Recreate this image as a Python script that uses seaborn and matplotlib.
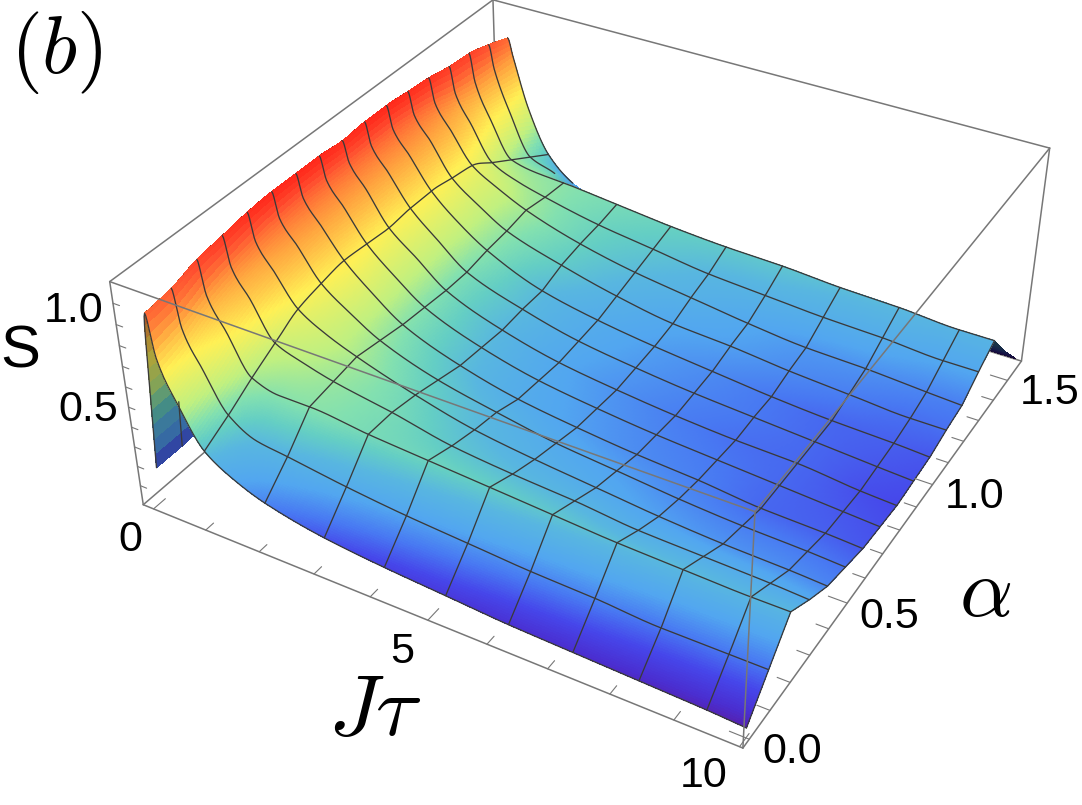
import numpy as np
import matplotlib
matplotlib.use("Agg")
import matplotlib.pyplot as plt
from matplotlib.colors import LinearSegmentedColormap
import seaborn as sns

sns.set_theme(style="white")
plt.rcParams["mathtext.fontset"] = "cm"

# S(J tau, alpha) on the plotting grid: one row per alpha, one column per J tau
jt = np.array([0, .1, .2, .3, .6, 1, 1.5, 2.05, 3.1, 4.15, 5.2, 6.25, 7.3, 8.35, 9.4, 10])
alpha = np.arange(17) * np.pi / 32
S = np.array([
 [.18,.62,.96,.76,.56,.37,.28,.22,.16,.13,.11,.09,.08,.07,.06,.05],
 [.18,.63,.98,.80,.63,.44,.36,.34,.30,.27,.25,.23,.22,.20,.20,.20],
 [.19,.65,1.02,.86,.71,.52,.48,.48,.45,.43,.41,.39,.37,.36,.35,.35],
 [.19,.66,1.04,.90,.77,.59,.54,.50,.45,.39,.36,.34,.31,.30,.29,.28],
 [.20,.67,1.06,.93,.81,.66,.58,.52,.43,.36,.32,.29,.26,.24,.23,.22],
 [.20,.68,1.07,.95,.84,.69,.59,.50,.40,.34,.29,.26,.23,.21,.20,.19],
 [.20,.69,1.07,.96,.85,.71,.59,.48,.37,.30,.26,.23,.21,.18,.17,.16],
 [.20,.69,1.07,.96,.85,.70,.58,.47,.36,.29,.25,.22,.20,.18,.16,.15],
 [.20,.69,1.06,.96,.85,.69,.58,.46,.35,.28,.24,.21,.19,.18,.15,.14],
 [.20,.69,1.07,.96,.85,.70,.58,.46,.36,.29,.25,.22,.20,.18,.16,.15],
 [.20,.69,1.07,.96,.85,.70,.58,.48,.36,.30,.26,.23,.20,.18,.17,.16],
 [.20,.68,1.06,.95,.84,.68,.58,.49,.40,.33,.28,.26,.23,.21,.19,.19],
 [.19,.67,1.05,.93,.81,.66,.58,.51,.42,.36,.32,.28,.25,.24,.22,.21],
 [.19,.66,1.03,.90,.76,.59,.53,.49,.43,.39,.35,.33,.31,.30,.28,.28],
 [.18,.65,1.02,.88,.70,.52,.49,.48,.45,.42,.40,.39,.37,.36,.34,.34],
 [.18,.63,.99,.87,.66,.45,.40,.30,.28,.25,.22,.21,.20,.19,.18,.18],
 [.17,.60,.95,.86,.60,.38,.26,.20,.12,.09,.07,.06,.05,.05,.04,.04],
])
mesh_jt = [1, 2.05, 3.1, 4.15, 5.2, 6.25, 7.3, 8.35, 9.4, 10]
jt_ticks = np.arange(0, 11)
alpha_ticks = np.arange(0, 16) / 10
s_ticks = np.arange(1, 11) / 10
xlim = (-.2, 10.05); ylim = (-.03, 1.6); zlim = (0., 1.1)

W, H = 1082, 805
fig = plt.figure(figsize=(W/100, H/100), dpi=100)
ax = fig.add_axes([0, 0, 1, 1], projection="3d", computed_zorder=False)
ax.set_axis_off()
ax.set_xlim(*xlim, view_margin=0); ax.set_ylim(*ylim, view_margin=0); ax.set_zlim(*zlim, view_margin=0)

# strong perspective view of the box; the axes square is larger than the canvas
side = 1500.
ax.view_init(34.8284, -60.1286, -0.0304)
ax.set_proj_type("persp", focal_length=0.2759)
ax.set_box_aspect((1, 0.9977, 0.3994), zoom=0.6311)
ax.set_position([(581.1342-side/2)/W, (H-344.7340-side/2)/H, side/W, side/H])


def pchip(x, y, xn):
    """Monotone cubic resampling, so the surface runs smoothly through the grid."""
    h = np.diff(x); d = np.diff(y)/h
    m = np.zeros_like(y)
    for i in range(1, y.size-1):
        if d[i-1]*d[i] > 0:
            w1, w2 = 2*h[i]+h[i-1], h[i]+2*h[i-1]
            m[i] = (w1+w2)/(w1/d[i-1]+w2/d[i])
    m[0], m[-1] = d[0], d[-1]
    i = np.clip(np.searchsorted(x, xn, side="right")-1, 0, x.size-2)
    t = (xn-x[i])/h[i]
    return ((2*t**3-3*t**2+1)*y[i]+(t**3-2*t**2+t)*h[i]*m[i]
            + (-2*t**3+3*t**2)*y[i+1]+(t**3-t**2)*h[i]*m[i+1])


# fine sampling that keeps every grid line as an exact row or column
per_gap = [6, 6, 6, 12, 14, 16, 18, 25, 25, 25, 25, 25, 25, 25, 15]
xf = np.concatenate([np.linspace(jt[i], jt[i+1], n, endpoint=False) for i, n in enumerate(per_gap)]+[[jt[-1]]])
col_of = np.r_[0, np.cumsum(per_gap)]
step = 24
yf = np.linspace(0, np.pi/2, 16*step+1)
Z1 = np.array([pchip(jt, row, xf) for row in S])
Zc = np.array([pchip(alpha, Z1[:, j], yf) for j in range(xf.size)]).T
Zl = np.array([np.interp(yf, alpha, Z1[:, j]) for j in range(xf.size)]).T
# rounded across alpha near the ridge, creased as faceted strips further out
w = np.clip(xf-1, 0, 1)
Zf = (1-w)*Zc + w*Zl
X, Y = np.meshgrid(xf, yf)

zmin, zmax = .03, 1.07
levels = [(.03,"#5a1aa0"),(.08,"#4a2ed0"),(.14,"#4646ea"),(.20,"#4878f2"),(.27,"#52a6f0"),(.35,"#58b6e0"),(.41,"#64cec4"),
          (.47,"#82e0b0"),(.55,"#c0f080"),(.70,"#fff055"),(.85,"#ffa840"),(1.0,"#ff5030"),(1.07,"#ff2a1c")]
cmap = LinearSegmentedColormap.from_list("height", [((z-zmin)/(zmax-zmin), c) for z, c in levels], N=4096)
colors = cmap(plt.Normalize(zmin, zmax)(Zf))

# the underside of the sheet reads darker: the rising flank and the far drop
shade = np.ones(Zf.shape)
shade[:, xf < .2] = .68
far = yf > alpha[14]
shade[far] = np.minimum(shade[far], np.interp(X[far], [1.5, 4], [1, .3]))
colors[..., :3] *= shade[..., None]

edge = "#777777"
mesh = "#3a3a3a"


def box(a, b, z):
    ax.plot([xlim[a[0]], xlim[b[0]]], [ylim[a[1]], ylim[b[1]]], [zlim[a[2]], zlim[b[2]]], color=edge, lw=1.1, zorder=z)


for a, b in [((0,1,0),(0,1,1)), ((0,1,0),(1,1,0)), ((0,0,0),(0,1,0))]:
    box(a, b, 1)
ax.plot_surface(X, Y, Zf, facecolors=colors, rstride=1, cstride=1, shade=False, antialiased=False, linewidth=0, zorder=2)

for k in range(alpha.size):
    row = k*step
    if k == 0:
        m = xf >= 0
    elif k <= 14:
        m = xf >= jt[2]
    else:
        m = (xf >= jt[2]) & (xf <= jt[6])
    ax.plot(xf[m], np.full(m.sum(), alpha[k]), Zf[row][m], color=mesh, lw=.95, zorder=3)
m = xf <= .06
ax.plot(xf[m], np.full(m.sum(), alpha[1]), Zf[step][m], color=mesh, lw=.95, zorder=3)
for v in mesh_jt:
    j = col_of[np.argmin(np.abs(jt-v))]
    top = yf.size if v == 1 else 14*step+1
    ax.plot(np.full(top, v), yf[:top], Zf[:top, j], color=mesh, lw=.95, zorder=3)

for a, b in [((0,0,1),(1,0,1)), ((0,0,1),(0,1,1)), ((0,1,1),(1,1,1)), ((1,0,1),(1,1,1)),
             ((0,0,0),(0,0,1)), ((1,0,0),(1,0,1)), ((1,1,0),(1,1,1)), ((0,0,0),(1,0,0)), ((1,0,0),(1,1,0))]:
    box(a, b, 4)
for v in jt_ticks:
    d = .045 if v % 5 == 0 else .03
    ax.plot([v, v], [ylim[0], ylim[0]+d], [0, 0], color=edge, lw=.8, zorder=4)
for v in alpha_ticks:
    d = .3 if abs(v*2-round(v*2)) < 1e-6 else .2
    ax.plot([xlim[1], xlim[1]-d], [v, v], [0, 0], color=edge, lw=.8, zorder=4)
for v in s_ticks:
    ax.plot([xlim[0], xlim[0]+.12], [ylim[0], ylim[0]], [v, v], color=edge, lw=.8, zorder=4)


def label(px, py, s, size, **kw):
    fig.text(px/W, 1-py/H, s, fontsize=size, ha="center", va="center", color="black", **kw)


for px_, py_, s in [(130,540,"0"),(402,652,"5"),(704,776,"10"),(792,752,"0.0"),(889,617,"0.5"),
                    (975,497,"1.0"),(1050,393,"1.5"),(74,311,"1.0"),(88,410,"0.5")]:
    label(px_, py_, s, 31, family="Liberation Sans")
label(20, 352, "S", 43, family="Liberation Sans")
label(56, 53, r"$(b)$", 59)
label(375, 711, r"$J\tau$", 62)
label(985, 592, r"$\alpha$", 60)
fig.savefig("out.png", dpi=100)
